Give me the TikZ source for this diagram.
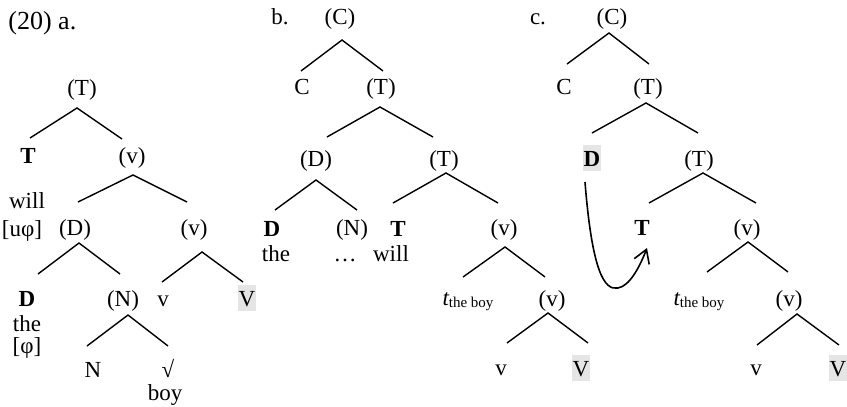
\documentclass[tikz,border=0pt]{standalone}
\usepackage{fontspec}
\setmainfont{Liberation Serif}
\usetikzlibrary{arrows.meta}
\newcommand\lbsize{\fontsize{11.5}{13.5}\selectfont}
\newcommand\subsz{\fontsize{7.5}{8}\selectfont}
\newcommand\trc{{\itshape t}\raisebox{-1pt}{\subsz the boy}}
\begin{document}
\begin{tikzpicture}[x=0.5pt,y=-0.5pt,
  lbl/.style={anchor=base,inner sep=0pt,font=\lbsize},
  hl/.style={lbl,fill=black!10,inner xsep=0.5pt,text height=10.5pt,text depth=2.5pt},
  br/.style={line width=0.7pt},
  mv/.style={line width=0.8pt,-{Straight Barb[length=6.5pt,width=8pt]}}]
\useasboundingbox (0,0) rectangle (847,407);

% ---------- labels ----------
\node[lbl,anchor=base west,font=\fontsize{13}{15}\selectfont] (ex) at (8,29) {(20) a.};
\node[lbl] (lb) at (280,25) {b.};
\node[lbl] (lc) at (538,25) {c.};

% ---------- tree a ----------
\node[lbl] (aT) at (82,95) {(T)};
\node[lbl] (aTh) at (28,163) {\textbf{T}};
\node[lbl] (av1) at (132,163) {(v)};
\node[lbl] (awill) at (27,208) {will};
\node[lbl] (auphi) at (22,236) {[uφ]};
\node[lbl] (aD) at (75,235) {(D)};
\node[lbl] (av2) at (194,235) {(v)};
\node[lbl] (aDh) at (27,306) {\textbf{D}};
\node[lbl] (aN) at (123,306) {(N)};
\node[lbl] (av) at (163,306) {v};
\node[hl] (aV) at (247,306) {V};
\node[lbl] (athe) at (27,331) {the};
\node[lbl] (aphi) at (27,353) {[φ]};
\node[lbl] (aNh) at (93,377) {N};
\node[lbl] (aroot) at (168,377) {√};
\node[lbl] (aboy) at (165,400) {boy};

\coordinate (aT-a) at (77,108);  \coordinate (aTh-f) at (30,138);  \coordinate (av1-f) at (122,139);
\coordinate (av1-a) at (133,175); \coordinate (aD-f) at (78,202);   \coordinate (av2-f) at (187,202);
\coordinate (aD-a) at (79,243);  \coordinate (aDh-f) at (38,274);  \coordinate (aN-f) at (120,274);
\coordinate (av2-a) at (202,252); \coordinate (av-f) at (162,282);  \coordinate (aV-f) at (243,282);
\coordinate (aN-a) at (128,315); \coordinate (aNh-f) at (87,346);  \coordinate (aroot-f) at (168,346);
\draw[br] (aTh-f) -- (aT-a) -- (av1-f);
\draw[br] (aD-f) -- (av1-a) -- (av2-f);
\draw[br] (aDh-f) -- (aD-a) -- (aN-f);
\draw[br] (av-f) -- (av2-a) -- (aV-f);
\draw[br] (aNh-f) -- (aN-a) -- (aroot-f);

% ---------- tree b ----------
\node[lbl] (bC) at (340,25) {(C)};
\node[lbl] (bCh) at (302,94) {C};
\node[lbl] (bT1) at (381,94) {(T)};
\node[lbl] (bD) at (316,166) {(D)};
\node[lbl] (bT2) at (444,166) {(T)};
\node[lbl] (bDh) at (272,236) {\textbf{D}};
\node[lbl] (bN) at (352,235) {(N)};
\node[lbl] (bTh) at (398,236) {\textbf{T}};
\node[lbl] (bv1) at (504,235) {(v)};
\node[lbl] (bthe) at (276,261) {the};
\node[lbl] (bdots) at (345,261) {…};
\node[lbl] (bwill) at (391,261) {will};
\node[lbl] (bt) at (468,305) {\trc};
\node[lbl] (bv2) at (552,306) {(v)};
\node[lbl] (bv) at (501,375) {v};
\node[hl] (bV) at (581,376) {V};

\coordinate (bC-a) at (342,40);  \coordinate (bCh-f) at (301,71);  \coordinate (bT1-f) at (383,71);
\coordinate (bT1-a) at (380,107); \coordinate (bD-f) at (327,137);  \coordinate (bT2-f) at (433,137);
\coordinate (bD-a) at (316,180); \coordinate (bDh-f) at (275,210); \coordinate (bN-f) at (357,210);
\coordinate (bT2-a) at (446,173); \coordinate (bTh-f) at (393,203); \coordinate (bv1-f) at (498,203);
\coordinate (bv1-a) at (505,247); \coordinate (bt-f) at (463,277);  \coordinate (bv2-f) at (545,277);
\coordinate (bv2-a) at (548,313); \coordinate (bv-f) at (507,343);  \coordinate (bV-f) at (588,343);
\draw[br] (bCh-f) -- (bC-a) -- (bT1-f);
\draw[br] (bD-f) -- (bT1-a) -- (bT2-f);
\draw[br] (bDh-f) -- (bD-a) -- (bN-f);
\draw[br] (bTh-f) -- (bT2-a) -- (bv1-f);
\draw[br] (bt-f) -- (bv1-a) -- (bv2-f);
\draw[br] (bv-f) -- (bv2-a) -- (bV-f);

% ---------- tree c ----------
\node[lbl] (cC) at (612,25) {(C)};
\node[lbl] (cCh) at (564,94) {C};
\node[lbl] (cT1) at (648,94) {(T)};
\node[hl] (cD) at (592,166) {\textbf{D}};
\node[lbl] (cT2) at (699,166) {(T)};
\node[lbl] (cTh) at (642,235) {\textbf{T}};
\node[lbl] (cv1) at (747,235) {(v)};
\node[lbl] (ct) at (699,305) {\trc};
\node[lbl] (cv2) at (789,306) {(v)};
\node[lbl] (cv) at (756,375) {v};
\node[hl] (cV) at (838,376) {V};

\coordinate (cC-a) at (609,33);  \coordinate (cCh-f) at (567,64);  \coordinate (cT1-f) at (649,64);
\coordinate (cT1-a) at (646,103); \coordinate (cD-f) at (592,133);  \coordinate (cT2-f) at (698,133);
\coordinate (cT2-a) at (703,173); \coordinate (cTh-f) at (649,203); \coordinate (cv1-f) at (756,203);
\coordinate (cv1-a) at (748,242); \coordinate (ct-f) at (707,272);  \coordinate (cv2-f) at (788,272);
\coordinate (cv2-a) at (797,314); \coordinate (cv-f) at (757,345);  \coordinate (cV-f) at (839,345);
\draw[br] (cCh-f) -- (cC-a) -- (cT1-f);
\draw[br] (cD-f) -- (cT1-a) -- (cT2-f);
\draw[br] (cTh-f) -- (cT2-a) -- (cv1-f);
\draw[br] (ct-f) -- (cv1-a) -- (cv2-f);
\draw[br] (cv-f) -- (cv2-a) -- (cV-f);

% movement arrow
\coordinate (mvs) at (585,182);
\coordinate (mvb) at (618,288);
\coordinate (mve) at (647,248);
\draw[mv] (mvs) .. controls (592,270) and (604,291) .. (mvb) .. controls (630,286) and (640,266) .. (mve);
\end{tikzpicture}
\end{document}
